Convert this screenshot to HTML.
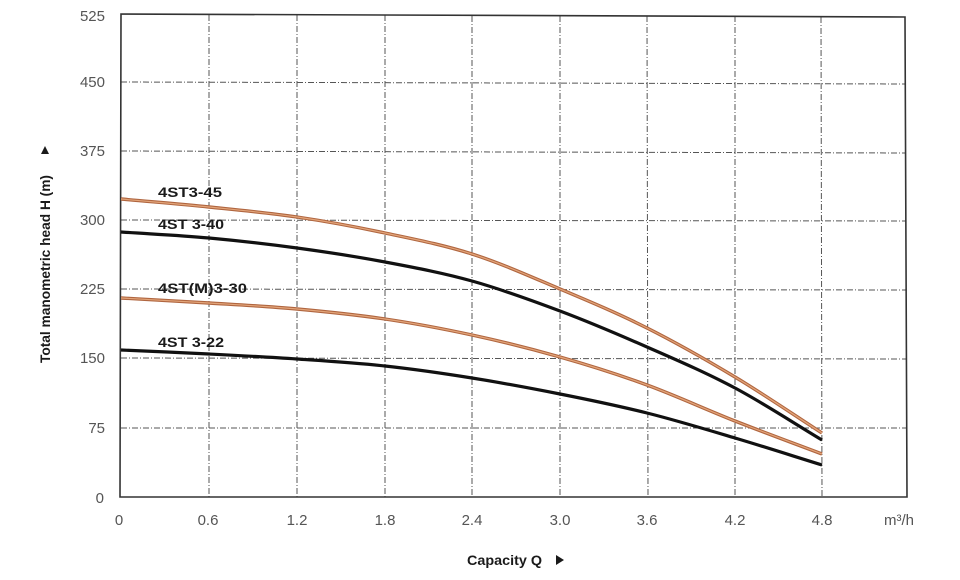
<!DOCTYPE html>
<html><head><meta charset="utf-8"><style>
html,body{margin:0;padding:0;background:#fff;}
svg{display:block;}
text{font-family:"Liberation Sans",Arial,sans-serif;}
</style></head><body>
<svg width="960" height="580" viewBox="0 0 960 580" xmlns="http://www.w3.org/2000/svg">
<rect width="960" height="580" fill="#fff"/>
<!-- grid -->
<g stroke="#555" stroke-width="1" stroke-dasharray="6,2,1,2" fill="none">
<line x1="121" y1="82" x2="905" y2="84"/>
<line x1="121" y1="151" x2="906" y2="153"/>
<line x1="121" y1="220" x2="906" y2="221"/>
<line x1="121" y1="289" x2="906" y2="290"/>
<line x1="121" y1="358" x2="906" y2="359"/>
<line x1="121" y1="428" x2="907" y2="428"/>
<line x1="209" y1="15" x2="209" y2="497"/>
<line x1="297" y1="15" x2="297" y2="497"/>
<line x1="385" y1="15" x2="385" y2="497"/>
<line x1="472" y1="16" x2="472" y2="497"/>
<line x1="560" y1="16" x2="560" y2="497"/>
<line x1="647" y1="16" x2="648" y2="497"/>
<line x1="735" y1="16" x2="735" y2="497"/>
<line x1="821" y1="17" x2="822" y2="497"/>
</g>
<!-- frame -->
<path d="M121,14 L905,17 L907,497 L120,497 Z" fill="none" stroke="#333" stroke-width="1.6"/>
<!-- curves -->
<g fill="none" stroke-linejoin="round" stroke-linecap="butt">
<path stroke="#b06640" stroke-width="3.4" d="M121,199 C150.3,201.7 179.7,204 209,207 C238.3,210 267.7,212.7 297,217 C326.3,221.3 355.8,226.8 385,233 C414.2,239.2 442.8,244.7 472,254 C501.2,263.3 530.8,276.7 560,289 C589.2,301.3 617.8,313.3 647,328 C676.2,342.7 705.8,359.5 735,377 C764.2,394.5 793,414.3 822,433"/>
<path stroke="#e3a57a" stroke-width="1.2" d="M121,199 C150.3,201.7 179.7,204 209,207 C238.3,210 267.7,212.7 297,217 C326.3,221.3 355.8,226.8 385,233 C414.2,239.2 442.8,244.7 472,254 C501.2,263.3 530.8,276.7 560,289 C589.2,301.3 617.8,313.3 647,328 C676.2,342.7 705.8,359.5 735,377 C764.2,394.5 793,414.3 822,433"/>
<path stroke="#111" stroke-width="3.2" d="M121,232 C150.3,234 179.7,235.3 209,238 C238.3,240.7 267.7,244 297,248 C326.3,252 355.8,256.5 385,262 C414.2,267.5 442.8,272.8 472,281 C501.2,289.2 530.8,300 560,311 C589.2,322 617.8,334.2 647,347 C676.2,359.8 705.8,372.5 735,388 C764.2,403.5 793,422.7 822,440"/>
<path stroke="#b06640" stroke-width="3.4" d="M121,298 C150.3,299.7 179.7,301.2 209,303 C238.3,304.8 267.7,306.3 297,309 C326.3,311.7 355.8,314.7 385,319 C414.2,323.3 442.8,328.7 472,335 C501.2,341.3 530.8,348.7 560,357 C589.2,365.3 617.8,374.3 647,385 C676.2,395.7 705.8,409.5 735,421 C764.2,432.5 793,443 822,454"/>
<path stroke="#e3a57a" stroke-width="1.2" d="M121,298 C150.3,299.7 179.7,301.2 209,303 C238.3,304.8 267.7,306.3 297,309 C326.3,311.7 355.8,314.7 385,319 C414.2,323.3 442.8,328.7 472,335 C501.2,341.3 530.8,348.7 560,357 C589.2,365.3 617.8,374.3 647,385 C676.2,395.7 705.8,409.5 735,421 C764.2,432.5 793,443 822,454"/>
<path stroke="#111" stroke-width="3.2" d="M121,350 C150.3,351.3 179.7,352.5 209,354 C238.3,355.5 267.7,357 297,359 C326.3,361 355.8,362.8 385,366 C414.2,369.2 442.8,373.3 472,378 C501.2,382.7 530.8,388.2 560,394 C589.2,399.8 617.8,405.7 647,413 C676.2,420.3 705.8,429.3 735,438 C764.2,446.7 793,456 822,465"/>
</g>
<!-- curve labels -->
<g font-weight="bold" font-size="14" fill="#1a1a1a">
<text x="158" y="197" textLength="64" lengthAdjust="spacingAndGlyphs">4ST3-45</text>
<text x="158" y="229" textLength="66" lengthAdjust="spacingAndGlyphs">4ST 3-40</text>
<text x="158" y="293" textLength="89" lengthAdjust="spacingAndGlyphs">4ST(M)3-30</text>
<text x="158" y="347" textLength="66" lengthAdjust="spacingAndGlyphs">4ST 3-22</text>
</g>
<!-- y ticks -->
<g font-size="15" fill="#555" text-anchor="end">
<text x="105" y="21">525</text>
<text x="105" y="87">450</text>
<text x="105" y="156">375</text>
<text x="105" y="225">300</text>
<text x="105" y="294">225</text>
<text x="105" y="363">150</text>
<text x="105" y="433">75</text>
<text x="104" y="503">0</text>
</g>
<!-- x ticks -->
<g font-size="15" fill="#555" text-anchor="middle">
<text x="119" y="525">0</text>
<text x="208" y="525">0.6</text>
<text x="297" y="525">1.2</text>
<text x="385" y="525">1.8</text>
<text x="472" y="525">2.4</text>
<text x="560" y="525">3.0</text>
<text x="647" y="525">3.6</text>
<text x="735" y="525">4.2</text>
<text x="822" y="525">4.8</text>
</g>
<text x="884" y="525" font-size="15" fill="#555">m³/h</text>
<!-- axis titles -->
<text x="467" y="565" font-size="14" font-weight="bold" fill="#1a1a1a" textLength="75" lengthAdjust="spacingAndGlyphs">Capacity Q</text>
<path d="M556,555 L564,560 L556,565 Z" fill="#1a1a1a"/>
<text transform="translate(50,363) rotate(-90)" x="0" y="0" font-size="14" font-weight="bold" fill="#1a1a1a" textLength="188" lengthAdjust="spacingAndGlyphs">Total manometric head H (m)</text>
<path d="M41,154 L45,146 L49,154 Z" fill="#1a1a1a"/>
</svg>
</body></html>
